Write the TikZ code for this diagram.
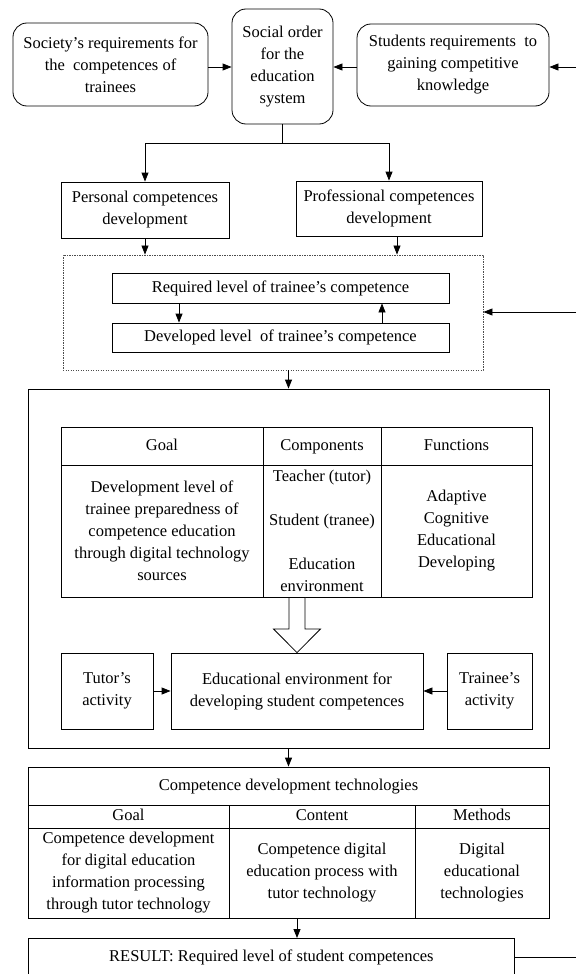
\documentclass[tikz,border=0pt]{standalone}
\usepackage{fontspec}
\setmainfont{Liberation Serif}
\usetikzlibrary{positioning,arrows.meta}
\tikzset{
  flowarrow/.style={-{Triangle[length=9pt,width=7pt]}, line width=0.8pt},
  roundbox/.style={draw, rounded corners=14pt, line width=0.8pt, align=center, inner sep=0pt},
  plainbox/.style={draw, line width=0.8pt, align=center, inner sep=0pt},
  cell/.style={draw, line width=0.8pt, align=center, inner sep=0pt},
  headcell/.style={cell, text height=11.5pt, text depth=3.5pt},
  dotframe/.style={draw=black!70, line width=0.9pt, dash pattern=on 1.2pt off 1.3pt, inner sep=0pt},
  hollowarrow/.style={draw, line width=0.8pt, fill=white, line join=miter}
}

\begin{document}
\begin{tikzpicture}[x=1pt, y=-1pt, every node/.style={font=\fontsize{16.5}{22}\selectfont}]
  \clip (0,0) rectangle (576,974);
  % top row
  \node[roundbox, minimum width=195pt, minimum height=83pt] (society) at (110.5,64.5) {Society's requirements for\\ the\ \ competences of\\ trainees};
  \node[roundbox, minimum width=101pt, minimum height=115pt] (social) at (282.5,66.5) {Social order\\ for the\\ education\\ system};
  \node[roundbox, minimum width=192pt, minimum height=82pt] (students) at (453,65) {Students requirements\ \ to\\ gaining competitive\\ knowledge};
  \coordinate (fbtop) at (576,67);
  \draw[flowarrow] (society.east |- 0,67) -- (social.west |- 0,67);
  \draw[flowarrow] (students.west |- 0,67) -- (social.east |- 0,67);
  \draw[flowarrow] (fbtop) -- (students.east |- fbtop);

  % competences
  \coordinate (split) at (282.5,143);
  \node[plainbox, minimum width=168pt, minimum height=56pt] (personal) at (145,210) {Personal competences\\ development};
  \node[plainbox, minimum width=186pt, minimum height=55pt] (professional) at (389,208.5) {Professional competences\\ development};
  \draw[line width=0.8pt] (social.south) -- (split);
  \draw[flowarrow] (split) -| (personal.north);
  \draw[flowarrow] (split) -| (professional.north);

  % levels
  \node[dotframe, minimum width=420pt, minimum height=115pt] (levels) at (273,312.5) {};
  \node[plainbox, minimum width=337pt, minimum height=30pt] (required) at (280.5,288) {Required level of trainee's competence};
  \node[plainbox, minimum width=337pt, minimum height=29pt] (developed) at (280.5,337.5) {Developed level\ \ of trainee's competence};
  \coordinate (fbmid) at (576,312);
  \draw[flowarrow] (personal.south) -- (personal.south |- levels.north);
  \draw[flowarrow] ([xshift=8pt]professional.south) -- ([xshift=8pt]professional.south |- levels.north);
  \draw[flowarrow] ([xshift=-101.5pt]required.south) -- ([xshift=-101.5pt]developed.north);
  \draw[flowarrow] ([xshift=101.5pt]developed.north) -- ([xshift=101.5pt]required.south);
  \draw[flowarrow] (fbmid) -- (levels.east |- fbmid);

  % educational environment
  \node[plainbox, minimum width=521pt, minimum height=359pt] (envframe) at (288.5,568.5) {};
  \draw[flowarrow] (envframe.north |- levels.south) -- (envframe.north);
  \node[headcell, minimum width=202pt, minimum height=38pt] (goalhead) at (162,446) {Goal};
  \node[headcell, minimum width=118pt, minimum height=38pt] (comphead) at (322,446) {Components};
  \node[headcell, minimum width=151pt, minimum height=38pt] (funchead) at (456.5,446) {Functions};
  \node[cell, minimum width=202pt, minimum height=132pt] (goalbody) at (162,531) {Development level of\\ trainee preparedness of\\ competence education\\ through digital technology\\ sources};
  \node[cell, minimum width=118pt, minimum height=132pt] (compbody) at (322,531) {Teacher (tutor)\\[22pt] Student (tranee)\\[22pt] Education\\ environment};
  \node[cell, minimum width=151pt, minimum height=132pt] (funcbody) at (456.5,531) {Adaptive\\ Cognitive\\ Educational\\ Developing};

  \node[plainbox, minimum width=92pt, minimum height=76pt] (tutor) at (107,691) {Tutor's\\ activity};
  \node[plainbox, minimum width=252pt, minimum height=76pt] (eduenv) at (297,691) {Educational environment for\\ developing student competences};
  \node[plainbox, minimum width=85pt, minimum height=76pt] (trainee) at (489.5,691) {Trainee's\\ activity};
  \draw[hollowarrow] (eduenv.north) -- (273.5,629) -- (289,629) -- (goalbody.south -| 289,0)
    -- (goalbody.south -| 305,0) -- (305,629) -- (320.5,629) -- cycle;
  \draw[flowarrow] (tutor) -- (eduenv);
  \draw[flowarrow] (trainee) -- (eduenv);

  % technologies
  \node[headcell, minimum width=521pt, minimum height=38pt] (techtitle) at (288.5,786) {Competence development technologies};
  \node[headcell, minimum width=201pt, minimum height=23pt] (tgoalhead) at (128.5,816.5) {Goal};
  \node[headcell, minimum width=186pt, minimum height=23pt] (contenthead) at (322,816.5) {Content};
  \node[headcell, minimum width=134pt, minimum height=23pt] (methodhead) at (482,816.5) {Methods};
  \node[cell, minimum width=201pt, minimum height=90pt] (tgoalbody) at (128.5,873) {Competence development\\ for digital education\\ information processing\\ through tutor technology};
  \node[cell, minimum width=186pt, minimum height=90pt] (contentbody) at (322,873) {Competence digital\\ education process with\\ tutor technology};
  \node[cell, minimum width=134pt, minimum height=90pt] (methodbody) at (482,873) {Digital\\ educational\\ technologies};
  \draw[flowarrow] (envframe.south) -- (techtitle.north);

  % result
  \node[plainbox, minimum width=486pt, inner ysep=11pt, text depth=40pt, anchor=north west] (result) at (28,938) {RESULT: Required level of student competences};
  \coordinate (fbbot) at (576,957);
  \draw[flowarrow] (contentbody.south -| eduenv.north) -- (result.north -| eduenv.north);
  \draw[line width=0.8pt] (result.east |- fbbot) -- (fbbot);
\end{tikzpicture}
\end{document}
